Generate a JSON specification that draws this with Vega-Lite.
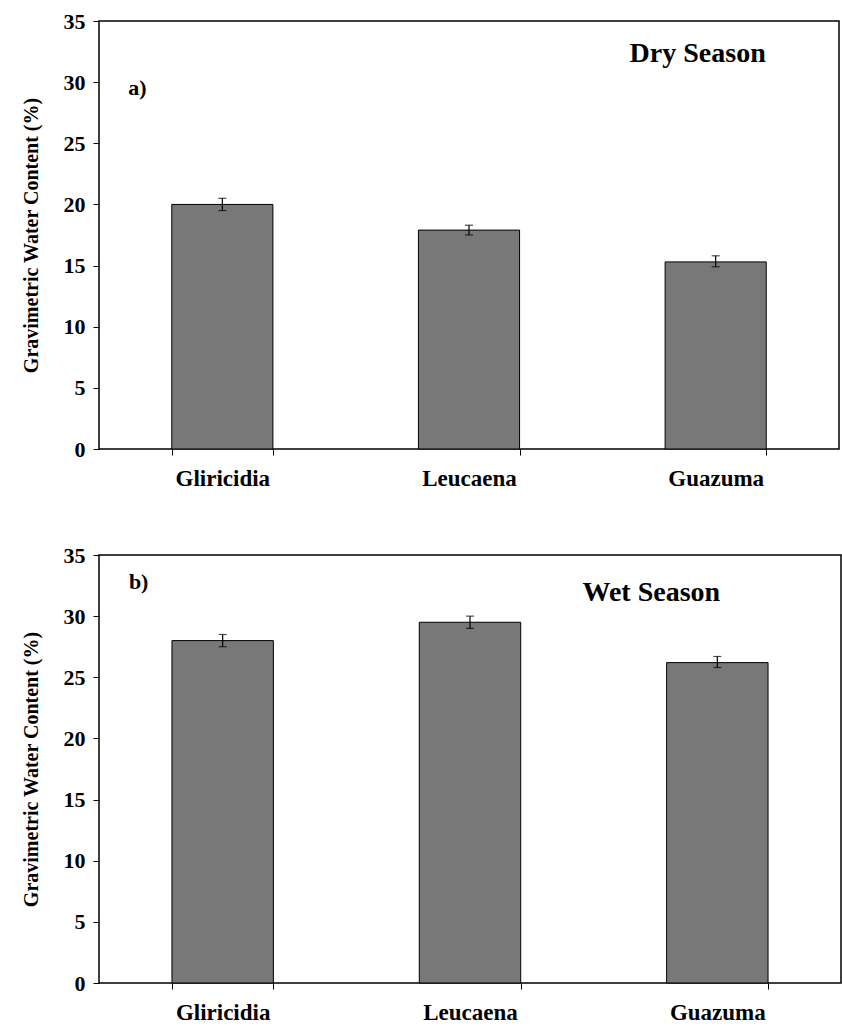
{
  "$schema": "https://vega.github.io/schema/vega-lite/v6.json",
  "background": "white",
  "padding": {"left": 20, "top": 9, "right": 0, "bottom": 0},
  "spacing": 52,
  "config": {
    "font": "Liberation Serif",
    "view": {"stroke": "black", "strokeWidth": 1.5},
    "axis": {
      "grid": false,
      "domainColor": "black",
      "tickColor": "black",
      "labelColor": "black",
      "titleColor": "black",
      "labelFont": "Liberation Serif",
      "titleFont": "Liberation Serif",
      "labelFontWeight": "bold",
      "titleFontWeight": "bold",
      "labelFontSize": 22,
      "titleFontSize": 20
    }
  },
  "datasets": {
    "bars": [
      {"season": "Dry", "species": "Gliricidia", "value": 20.0, "lo": 19.5, "hi": 20.5},
      {"season": "Dry", "species": "Leucaena", "value": 17.9, "lo": 17.5, "hi": 18.3},
      {"season": "Dry", "species": "Guazuma", "value": 15.3, "lo": 14.9, "hi": 15.8},
      {"season": "Wet", "species": "Gliricidia", "value": 28.0, "lo": 27.5, "hi": 28.5},
      {"season": "Wet", "species": "Leucaena", "value": 29.5, "lo": 29.0, "hi": 30.0},
      {"season": "Wet", "species": "Guazuma", "value": 26.2, "lo": 25.8, "hi": 26.7}
    ],
    "notes": [
      {"season": "Dry", "species": "Gliricidia", "y": 29.5, "label": "a)", "kind": "tag"},
      {"season": "Dry", "species": "Guazuma", "y": 32.3, "label": "Dry Season", "kind": "title"},
      {"season": "Wet", "species": "Gliricidia", "y": 32.8, "label": "b)", "kind": "tag"},
      {"season": "Wet", "species": "Guazuma", "y": 31.9, "label": "Wet Season", "kind": "title"}
    ]
  },
  "vconcat": [
    {
      "width": 740,
      "height": 428,
      "layer": [
        {
          "data": {"name": "bars"},
          "transform": [{"filter": "datum.season == 'Dry'"}],
          "mark": {"type": "bar", "fill": "#787878", "stroke": "black", "strokeWidth": 1},
          "encoding": {
            "x": {"field": "species", "type": "nominal", "sort": ["Gliricidia", "Leucaena", "Guazuma"],
                  "scale": {"paddingInner": 0.59, "paddingOuter": 0.295},
                  "axis": {"title": null, "labelAngle": 0, "tickBand": "extent", "labelPadding": 12, "tickSize": 6, "domain": false, "labelFontSize": 23}},
            "y": {"field": "value", "type": "quantitative", "scale": {"domain": [0, 35]}, "title": "Gravimetric Water Content (%)",
                  "axis": {"values": [0, 5, 10, 15, 20, 25, 30, 35], "tickSize": 6, "labelPadding": 8, "titlePadding": 22, "domain": false}}
          }
        },
        {
          "data": {"name": "bars"},
          "transform": [{"filter": "datum.season == 'Dry'"}],
          "mark": {"type": "errorbar", "color": "black", "thickness": 1.2, "ticks": {"size": 8, "color": "black"}},
          "encoding": {
            "x": {"field": "species", "type": "nominal", "sort": ["Gliricidia", "Leucaena", "Guazuma"]},
            "y": {"field": "lo", "type": "quantitative", "title": "Gravimetric Water Content (%)"},
            "y2": {"field": "hi"}
          }
        },
        {
          "data": {"name": "notes"},
          "transform": [{"filter": "datum.season == 'Dry' && datum.kind == 'tag'"}],
          "mark": {"type": "text", "font": "Liberation Serif", "fontWeight": "bold", "fontSize": 22, "dx": -85, "align": "center", "baseline": "middle"},
          "encoding": {
            "x": {"field": "species", "type": "nominal", "sort": ["Gliricidia", "Leucaena", "Guazuma"]},
            "y": {"field": "y", "type": "quantitative", "title": "Gravimetric Water Content (%)"},
            "text": {"field": "label"}
          }
        },
        {
          "data": {"name": "notes"},
          "transform": [{"filter": "datum.season == 'Dry' && datum.kind == 'title'"}],
          "mark": {"type": "text", "font": "Liberation Serif", "fontWeight": "bold", "fontSize": 28, "dx": -18, "align": "center", "baseline": "middle"},
          "encoding": {
            "x": {"field": "species", "type": "nominal", "sort": ["Gliricidia", "Leucaena", "Guazuma"]},
            "y": {"field": "y", "type": "quantitative", "title": "Gravimetric Water Content (%)"},
            "text": {"field": "label"}
          }
        }
      ]
    },
    {
      "width": 742,
      "height": 428,
      "layer": [
        {
          "data": {"name": "bars"},
          "transform": [{"filter": "datum.season == 'Wet'"}],
          "mark": {"type": "bar", "fill": "#787878", "stroke": "black", "strokeWidth": 1},
          "encoding": {
            "x": {"field": "species", "type": "nominal", "sort": ["Gliricidia", "Leucaena", "Guazuma"],
                  "scale": {"paddingInner": 0.59, "paddingOuter": 0.295},
                  "axis": {"title": null, "labelAngle": 0, "tickBand": "extent", "labelPadding": 12, "tickSize": 6, "domain": false, "labelFontSize": 23}},
            "y": {"field": "value", "type": "quantitative", "scale": {"domain": [0, 35]}, "title": "Gravimetric Water Content (%)",
                  "axis": {"values": [0, 5, 10, 15, 20, 25, 30, 35], "tickSize": 6, "labelPadding": 8, "titlePadding": 22, "domain": false}}
          }
        },
        {
          "data": {"name": "bars"},
          "transform": [{"filter": "datum.season == 'Wet'"}],
          "mark": {"type": "errorbar", "color": "black", "thickness": 1.2, "ticks": {"size": 8, "color": "black"}},
          "encoding": {
            "x": {"field": "species", "type": "nominal", "sort": ["Gliricidia", "Leucaena", "Guazuma"]},
            "y": {"field": "lo", "type": "quantitative", "title": "Gravimetric Water Content (%)"},
            "y2": {"field": "hi"}
          }
        },
        {
          "data": {"name": "notes"},
          "transform": [{"filter": "datum.season == 'Wet' && datum.kind == 'tag'"}],
          "mark": {"type": "text", "font": "Liberation Serif", "fontWeight": "bold", "fontSize": 22, "dx": -84, "align": "center", "baseline": "middle"},
          "encoding": {
            "x": {"field": "species", "type": "nominal", "sort": ["Gliricidia", "Leucaena", "Guazuma"]},
            "y": {"field": "y", "type": "quantitative", "title": "Gravimetric Water Content (%)"},
            "text": {"field": "label"}
          }
        },
        {
          "data": {"name": "notes"},
          "transform": [{"filter": "datum.season == 'Wet' && datum.kind == 'title'"}],
          "mark": {"type": "text", "font": "Liberation Serif", "fontWeight": "bold", "fontSize": 28, "dx": -66, "align": "center", "baseline": "middle"},
          "encoding": {
            "x": {"field": "species", "type": "nominal", "sort": ["Gliricidia", "Leucaena", "Guazuma"]},
            "y": {"field": "y", "type": "quantitative", "title": "Gravimetric Water Content (%)"},
            "text": {"field": "label"}
          }
        }
      ]
    }
  ]
}
